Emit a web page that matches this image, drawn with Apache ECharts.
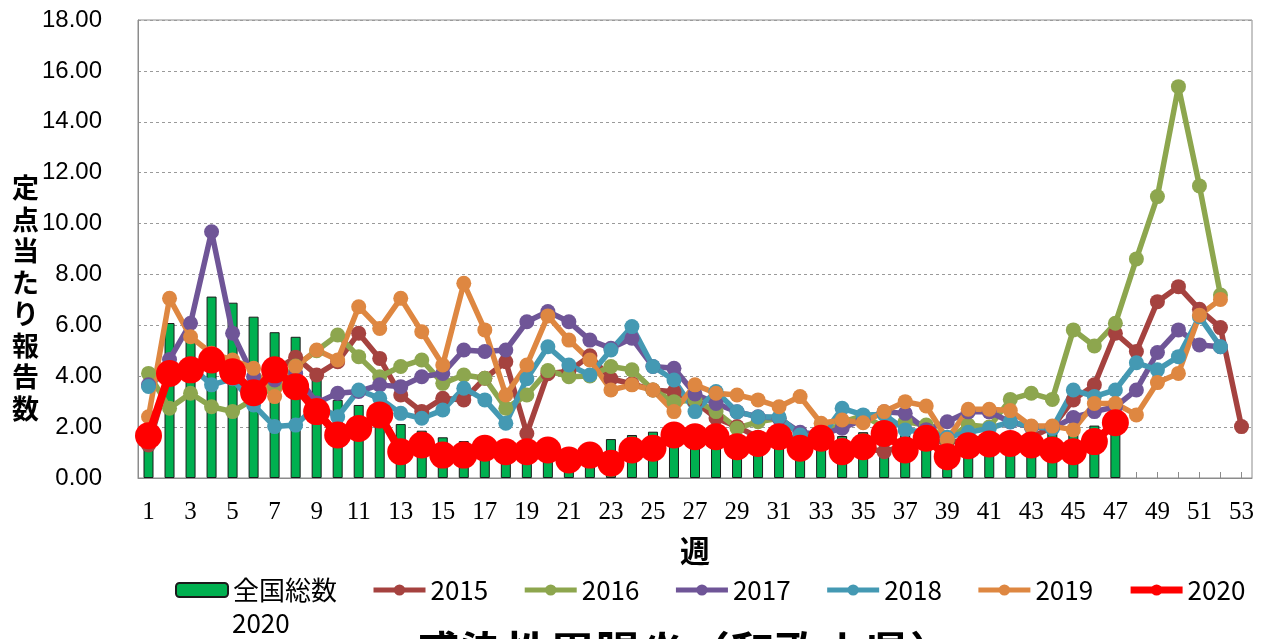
<!DOCTYPE html>
<html>
<head>
<meta charset="utf-8">
<script src="https://cdn.jsdelivr.net/npm/echarts@6/dist/echarts.min.js"></script>
<style>
html,body{margin:0;padding:0;background:#fff;}
#c{width:1268px;height:639px;}
</style>
</head>
<body>
<div id="c"></div>
<script>
const weeks = Array.from({length: 53}, (_, i) => String(i + 1));
const yTicks = [0, 2, 4, 6, 8, 10, 12, 14, 16, 18];
const yAxisTitle = '定点当たり報告数';
const xAxisTitle = '週';
const chartTitle = '感染性胃腸炎（和歌山県）';

const national2020 = [1.5, 6.09, 5.5, 7.13, 6.89, 6.34, 5.73, 5.55, 4.0, 3.07, 2.87, 2.5, 2.12, 1.86, 1.6, 1.45, 1.3, 1.15, 1.0, 0.95, 0.85, 0.9, 1.53, 1.69, 1.82, 1.75, 1.7, 1.6, 1.5, 1.55, 1.6, 1.5, 1.55, 1.65, 1.8, 1.8, 1.9, 2.0, 0.9, 1.2, 1.3, 1.4, 1.5, 1.77, 1.9, 2.06, 2.2];

const y2015 = [1.3, 4.1, 4.25, 4.6, 4.2, 3.4, 4.2, 4.75, 4.05, 4.57, 5.69, 4.7, 3.26, 2.61, 3.13, 3.07, 3.92, 4.57, 1.75, 4.1, 4.2, 4.8, 3.9, 3.7, 3.46, 3.39, 3.0, 2.36, 2.02, 1.6, 1.7, 1.5, 1.4, 1.3, 1.2, 1.03, 1.3, 1.5, 1.4, 1.5, 1.6, 1.5, 1.6, 2.0, 3.07, 3.66, 5.69, 4.97, 6.93, 7.52, 6.63, 5.91, 2.02];

const y2016 = [4.11, 2.74, 3.33, 2.8, 2.61, 3.1, 3.6, 4.4, 5.0, 5.62, 4.77, 3.98, 4.38, 4.64, 3.72, 4.05, 3.92, 2.74, 3.26, 4.22, 3.98, 4.01, 4.38, 4.25, 3.46, 3.0, 3.07, 2.61, 1.96, 2.21, 2.35, 1.75, 1.6, 2.2, 2.45, 2.0, 2.21, 2.08, 1.5, 2.08, 2.0, 3.09, 3.33, 3.09, 5.82, 5.19, 6.08, 8.61, 11.06, 15.38, 11.48, 7.19, null];

const y2017 = [3.66, 4.66, 6.08, 9.68, 5.69, 3.98, 3.85, 4.1, 2.95, 3.33, 3.4, 3.66, 3.59, 3.98, 4.11, 5.03, 4.97, 5.03, 6.14, 6.54, 6.14, 5.42, 5.1, 5.49, 4.38, 4.31, 3.3, 2.93, 2.6, 2.41, 2.35, 1.8, 1.7, 1.96, 2.3, 2.6, 2.54, 1.9, 2.21, 2.6, 2.6, 2.2, 2.0, 1.95, 2.38, 2.61, 2.8, 3.46, 4.93, 5.82, 5.23, 5.16, null];

const y2018 = [3.6, 4.3, 4.4, 3.66, 3.9, 2.87, 2.02, 2.08, 2.85, 2.41, 3.46, 3.13, 2.54, 2.35, 2.67, 3.53, 3.07, 2.15, 3.9, 5.16, 4.44, 4.05, 5.03, 5.95, 4.38, 3.85, 2.61, 3.4, 2.6, 2.4, 2.4, 1.69, 1.6, 2.74, 2.48, 2.5, 1.89, 1.8, 1.6, 1.8, 1.95, 2.21, 2.02, 1.95, 3.46, 3.2, 3.46, 4.53, 4.25, 4.77, 6.34, 5.16, null];

const y2019 = [2.41, 7.06, 5.55, 4.9, 4.64, 4.31, 3.2, 4.38, 5.03, 4.64, 6.73, 5.88, 7.06, 5.75, 4.44, 7.65, 5.82, 3.26, 4.44, 6.37, 5.42, 4.64, 3.46, 3.66, 3.46, 2.61, 3.66, 3.33, 3.26, 3.07, 2.8, 3.2, 2.15, 2.28, 2.17, 2.61, 3.0, 2.83, 1.52, 2.7, 2.7, 2.65, 2.04, 2.04, 1.89, 2.93, 2.93, 2.48, 3.75, 4.11, 6.4, 7.02, null];

const y2020 = [1.66, 4.11, 4.25, 4.64, 4.18, 3.35, 4.25, 3.59, 2.61, 1.69, 1.95, 2.48, 1.03, 1.3, 0.9, 0.9, 1.17, 1.03, 1.03, 1.1, 0.71, 0.9, 0.58, 1.1, 1.17, 1.69, 1.62, 1.62, 1.23, 1.36, 1.62, 1.17, 1.56, 1.03, 1.23, 1.75, 1.1, 1.56, 0.84, 1.27, 1.34, 1.36, 1.3, 1.1, 1.03, 1.43, 2.17];

const years = [
  {name: '2015', data: y2015, color: '#A5423F'},
  {name: '2016', data: y2016, color: '#8DA64E'},
  {name: '2017', data: y2017, color: '#6F5597'},
  {name: '2018', data: y2018, color: '#4499B3'},
  {name: '2019', data: y2019, color: '#DE8741'}
];

const chart = echarts.init(document.getElementById('c'), null, {renderer: 'canvas'});
const cjk = "'Noto Sans CJK JP', 'Noto Sans', sans-serif";

const series = [{
  name: '全国総数2020',
  type: 'bar',
  data: national2020,
  barWidth: 10,
  itemStyle: {color: '#00B050', borderColor: '#1b1b1b', borderWidth: 1}
}];
years.forEach(y => {
  series.push({
    name: y.name,
    type: 'line',
    data: y.data,
    symbol: 'circle',
    symbolSize: 15,
    showAllSymbol: true,
    itemStyle: {color: y.color},
    lineStyle: {color: y.color, width: 5.5},
    z: 3
  });
});
series.push({
  name: '2020',
  type: 'line',
  data: y2020,
  symbol: 'circle',
  symbolSize: 27,
  showAllSymbol: true,
  itemStyle: {color: '#FF0000'},
  lineStyle: {color: '#FF0000', width: 8},
  z: 4
});

const legendData = [{name: '全国総数2020'}]
  .concat(years.map(y => ({name: y.name, lineStyle: {width: 5}})))
  .concat([{name: '2020', lineStyle: {width: 7}}]);

chart.setOption({
  animation: false,
  backgroundColor: '#fff',
  title: {
    text: chartTitle,
    left: 410,
    top: 625,
    textStyle: {fontFamily: cjk, fontSize: 45, fontWeight: 'bold', color: '#000'}
  },
  grid: {
    left: 138, right: 16, top: 20, bottom: 161,
    show: true, borderColor: '#8c8c8c', borderWidth: 1
  },
  legend: {
    left: 175,
    top: 577,
    padding: 0,
    itemWidth: 52,
    itemHeight: 14,
    itemGap: 34,
    lineStyle: {width: 5},
    textStyle: {fontFamily: cjk, fontSize: 26, color: '#000'},
    formatter: n => n === '全国総数2020' ? '全国総数' : n,
    data: legendData
  },
  graphic: [{
    type: 'text',
    left: 232,
    top: 610,
    style: {text: '2020', font: "26px 'Noto Sans CJK JP', sans-serif", fill: '#000'}
  }, {
    type: 'text',
    left: 12,
    top: 172,
    style: {
      text: yAxisTitle.split('').join('\n'),
      font: "bold 27px 'Noto Sans CJK JP', sans-serif",
      lineHeight: 31.5,
      fill: '#000'
    }
  }],
  xAxis: {
    type: 'category',
    data: weeks,
    boundaryGap: true,
    name: xAxisTitle,
    nameLocation: 'middle',
    nameGap: 58,
    nameTextStyle: {fontFamily: cjk, fontSize: 30, fontWeight: 'bold', color: '#000'},
    axisLine: {lineStyle: {color: '#8c8c8c', width: 1}},
    axisTick: {show: true, inside: true, length: 6, alignWithLabel: true, interval: 0, lineStyle: {color: '#8c8c8c'}},
    axisLabel: {interval: 1, margin: 22, fontFamily: "'Liberation Serif', 'DejaVu Serif', serif", fontSize: 25, color: '#000'}
  },
  yAxis: {
    type: 'value',
    min: yTicks[0],
    max: yTicks[yTicks.length - 1],
    interval: 2,
    axisLine: {show: true, lineStyle: {color: '#8c8c8c', width: 1}},
    axisTick: {show: false},
    axisLabel: {margin: 36, fontFamily: "'Liberation Sans', Arial, sans-serif", fontSize: 24, color: '#000', formatter: v => v.toFixed(2)},
    splitLine: {show: true, lineStyle: {color: '#9a9a9a', type: [3, 3], width: 1}}
  },
  series: series
});
</script>
</body>
</html>
